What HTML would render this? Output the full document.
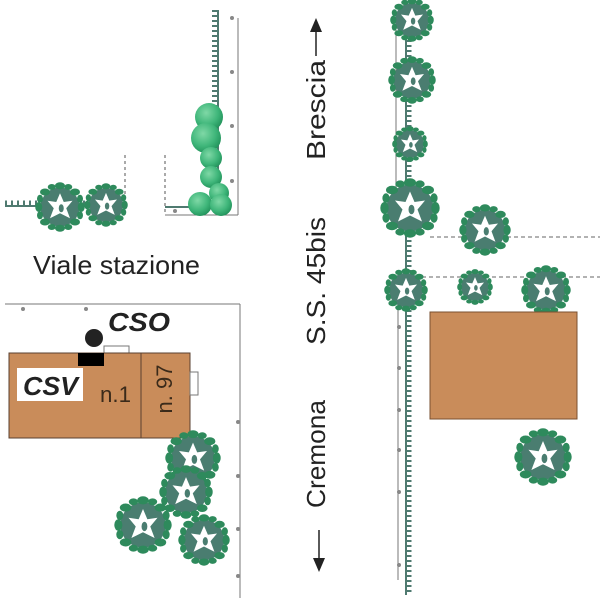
<!DOCTYPE html>
<html><head><style>body{margin:0;background:#fff}svg{display:block}</style></head>
<body>
<svg width="600" height="600" viewBox="0 0 600 600" xmlns="http://www.w3.org/2000/svg" font-family="Liberation Sans, sans-serif">
<defs>
<g id="t">
  <circle r="0.78" fill="#4a7d70"/>
  <g fill="#2e8a5c">
    <ellipse cx="0" cy="-0.85" rx="0.2" ry="0.14"/><ellipse cx="0.6" cy="-0.6" rx="0.2" ry="0.14"/>
    <ellipse cx="0.85" cy="0" rx="0.14" ry="0.2"/><ellipse cx="0.6" cy="0.6" rx="0.2" ry="0.14"/>
    <ellipse cx="0" cy="0.85" rx="0.2" ry="0.14"/><ellipse cx="-0.6" cy="0.6" rx="0.2" ry="0.14"/>
    <ellipse cx="-0.85" cy="0" rx="0.14" ry="0.2"/><ellipse cx="-0.6" cy="-0.6" rx="0.2" ry="0.14"/>
    <ellipse cx="0.33" cy="-0.8" rx="0.16" ry="0.12"/><ellipse cx="0.8" cy="-0.33" rx="0.12" ry="0.16"/>
    <ellipse cx="0.8" cy="0.33" rx="0.12" ry="0.16"/><ellipse cx="0.33" cy="0.8" rx="0.16" ry="0.12"/>
    <ellipse cx="-0.33" cy="0.8" rx="0.16" ry="0.12"/><ellipse cx="-0.8" cy="0.33" rx="0.12" ry="0.16"/>
    <ellipse cx="-0.8" cy="-0.33" rx="0.12" ry="0.16"/><ellipse cx="-0.33" cy="-0.8" rx="0.16" ry="0.12"/>
  </g>
  <polygon fill="#fff" points="0,-0.55 0.15,-0.2 0.5,-0.25 0.25,0.05 0.4,0.45 0,0.25 -0.4,0.45 -0.25,0.05 -0.5,-0.25 -0.15,-0.2"/>
  <ellipse cx="0.05" cy="0.05" rx="0.1" ry="0.16" fill="#4a7d70"/>
</g>
<radialGradient id="g" cx="0.4" cy="0.35" r="0.7"><stop offset="0" stop-color="#7fd8a6"/><stop offset="0.6" stop-color="#3fb67a"/><stop offset="1" stop-color="#1f8f58"/></radialGradient>
</defs>

<!-- top-left area -->
<line x1="5" y1="206" x2="125" y2="206" stroke="#4f7a70" stroke-width="2"/>
<line x1="5" y1="203" x2="125" y2="203" stroke="#4f7a70" stroke-width="5" stroke-dasharray="2 4"/>
<line x1="125" y1="155" x2="125" y2="206" stroke="#555" stroke-dasharray="3 3"/>
<use href="#t" transform="translate(60,207) scale(25)"/>
<use href="#t" transform="translate(106,205) scale(22)"/>

<line x1="165" y1="155" x2="165" y2="215" stroke="#555" stroke-dasharray="3 3"/>
<line x1="165" y1="215" x2="238" y2="215" stroke="#777"/>
<line x1="238" y1="18" x2="238" y2="215" stroke="#777"/>
<line x1="218" y1="10" x2="218" y2="185" stroke="#4f7a70" stroke-width="2"/>
<line x1="215" y1="10" x2="215" y2="185" stroke="#4f7a70" stroke-width="6" stroke-dasharray="2 3"/>
<line x1="165" y1="207" x2="190" y2="207" stroke="#4f7a70" stroke-width="2"/>
<g fill="#888"><circle cx="232" cy="18" r="2"/><circle cx="232" cy="72" r="2"/><circle cx="232" cy="126" r="2"/><circle cx="232" cy="181" r="2"/><circle cx="175" cy="211" r="2"/></g>
<g fill="url(#g)">
<circle cx="209" cy="117" r="14"/><circle cx="206" cy="138" r="15"/><circle cx="211" cy="158" r="11"/><circle cx="211" cy="177" r="11"/><circle cx="219" cy="193" r="10"/><circle cx="200" cy="204" r="12"/><circle cx="221" cy="205" r="11"/>
</g>

<text x="33" y="274" font-size="26" textLength="167" lengthAdjust="spacingAndGlyphs" fill="#222">Viale stazione</text>

<!-- fences lower-left -->
<line x1="5" y1="304" x2="240" y2="304" stroke="#777"/>
<line x1="240" y1="304" x2="240" y2="598" stroke="#777"/>
<g fill="#888"><circle cx="23" cy="309" r="2"/><circle cx="86" cy="309" r="2"/><circle cx="238" cy="422" r="2"/><circle cx="238" cy="476" r="2"/><circle cx="238" cy="529" r="2"/><circle cx="238" cy="576" r="2"/></g>

<!-- building left -->
<rect x="104" y="346" width="25" height="10" fill="#fff" stroke="#777"/>
<rect x="9" y="353" width="181" height="85" fill="#c98c5a" stroke="#5a4030"/>
<line x1="141" y1="353" x2="141" y2="438" stroke="#5a4030"/>
<rect x="78" y="353" width="26" height="13" fill="#000"/>
<circle cx="94" cy="338" r="9" fill="#222"/>
<rect x="190" y="372" width="8" height="23" fill="#fff" stroke="#777"/>
<rect x="17" y="368" width="66" height="33" fill="#fff"/>
<text x="23" y="395" font-size="26" font-weight="bold" font-style="italic" textLength="55" lengthAdjust="spacingAndGlyphs" fill="#222">CSV</text>
<text x="108" y="331" font-size="26" font-weight="bold" font-style="italic" textLength="62" lengthAdjust="spacingAndGlyphs" fill="#222">CSO</text>
<text x="100" y="402" font-size="22" textLength="31" lengthAdjust="spacingAndGlyphs" fill="#3a2a1a">n.1</text>
<text transform="translate(172,389) rotate(-90)" font-size="22" text-anchor="middle" fill="#3a2a1a">n. 97</text>

<use href="#t" transform="translate(193,458) scale(28)"/>
<use href="#t" transform="translate(186,492) scale(27)"/>
<use href="#t" transform="translate(143,525) scale(29)"/>
<use href="#t" transform="translate(204,540) scale(26)"/>

<!-- road labels -->
<text transform="translate(325,160) rotate(-90)" font-size="26" textLength="100" lengthAdjust="spacingAndGlyphs" fill="#222">Brescia</text>
<line x1="316" y1="32" x2="316" y2="56" stroke="#222" stroke-width="1.5"/>
<polygon points="310,32 322,32 316,18" fill="#222"/>
<text transform="translate(325,345) rotate(-90)" font-size="26" textLength="128" lengthAdjust="spacingAndGlyphs" fill="#222">S.S. 45bis</text>
<text transform="translate(325,508) rotate(-90)" font-size="26" textLength="108" lengthAdjust="spacingAndGlyphs" fill="#222">Cremona</text>
<line x1="319" y1="530" x2="319" y2="558" stroke="#222" stroke-width="1.5"/>
<polygon points="313,558 325,558 319,572" fill="#222"/>

<!-- right side -->
<line x1="396" y1="30" x2="396" y2="210" stroke="#777"/>
<line x1="398" y1="300" x2="398" y2="580" stroke="#777"/>
<line x1="406" y1="5" x2="406" y2="595" stroke="#4f7a70" stroke-width="2"/>
<line x1="409" y1="5" x2="409" y2="595" stroke="#4f7a70" stroke-width="5" stroke-dasharray="2 3"/>
<g fill="#888"><circle cx="399" cy="327" r="2"/><circle cx="399" cy="368" r="2"/><circle cx="399" cy="410" r="2"/><circle cx="399" cy="450" r="2"/><circle cx="399" cy="492" r="2"/><circle cx="399" cy="565" r="2"/></g>
<line x1="430" y1="237" x2="600" y2="237" stroke="#666" stroke-dasharray="4 3"/>
<line x1="415" y1="277" x2="600" y2="277" stroke="#666" stroke-dasharray="4 3"/>
<use href="#t" transform="translate(412,20) scale(22)"/>
<use href="#t" transform="translate(412,80) scale(24)"/>
<use href="#t" transform="translate(410,144) scale(18)"/>
<use href="#t" transform="translate(410,208) scale(30)"/>
<use href="#t" transform="translate(485,230) scale(26)"/>
<use href="#t" transform="translate(406,290) scale(22)"/>
<use href="#t" transform="translate(475,287) scale(18)"/>
<use href="#t" transform="translate(546,290) scale(25)"/>
<rect x="430" y="312" width="147" height="107" fill="#c98c5a" stroke="#7a5030"/>
<use href="#t" transform="translate(543,457) scale(29)"/>
</svg>
</body></html>
